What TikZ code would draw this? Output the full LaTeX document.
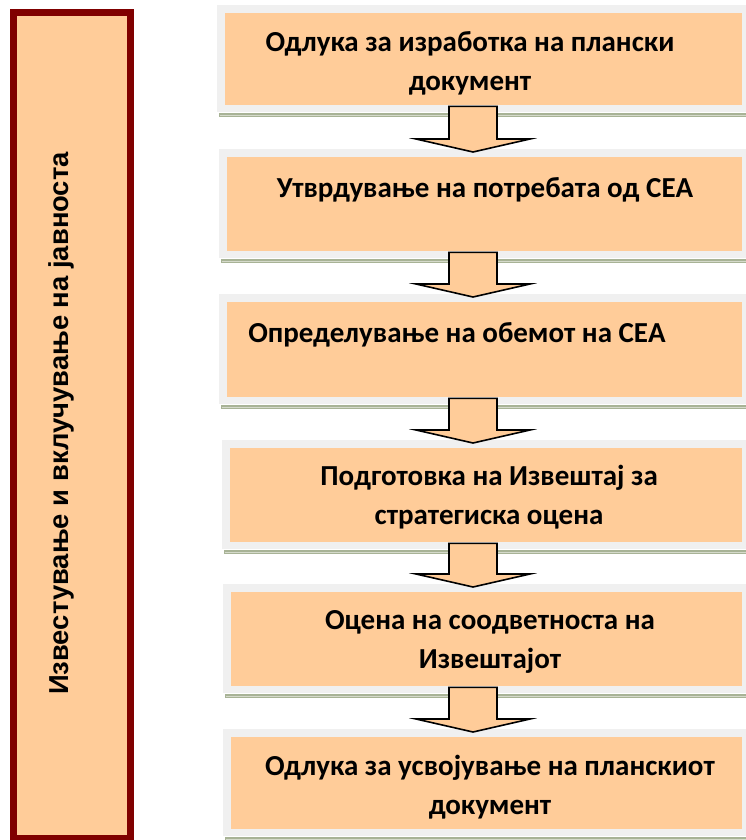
\documentclass[tikz,border=0pt]{standalone}
\usepackage{fontspec}
\setmainfont{Carlito}
\newfontfamily\sidefont{Liberation Sans}
\usetikzlibrary{calc}
\definecolor{peach}{HTML}{FFCC99}
\definecolor{darkmaroon}{HTML}{800000}
\definecolor{framegray}{HTML}{F0F0F0}
\definecolor{shadowgreen}{HTML}{A8B396}
\definecolor{shadowlight}{HTML}{D5DACB}
\tikzset{
  stepbox/.style={fill=peach, inner sep=0pt, anchor=north west},
  steptext/.style={font=\bfseries\fontsize{29}{38.5}\selectfont, align=center, inner sep=0pt},
  downarrow/.style={fill=peach, draw=black, line width=1.6pt, line join=miter},
}
\begin{document}
\begin{tikzpicture}[x=1pt,y=-1pt]
\useasboundingbox (0,0) rectangle (746,840);
\clip (0,0) rectangle (746,840);
% side box
\node[draw=darkmaroon, line width=7pt, fill=peach, inner sep=0pt,
      minimum width=117, minimum height=826] (side) at (72,425.5) {};
\node[rotate=90, font=\sidefont\bfseries\fontsize{27.4}{32}\selectfont] (sidetext) at (61,423.5)
  {Известување и вклучување на јавноста};
% step boxes
\foreach \n/\xl/\yt/\yb in {1/225/13/105, 2/227/157/251, 3/227/302/397,
                            4/230/448/542, 5/231/592/686, 6/231/737/829}{
  \fill[framegray] (\xl-8,\yt-8) rectangle (750,\yb+7);        % light frame
  \fill[shadowgreen] (\xl-6,\yb+8) rectangle (750,\yb+12);     % shadow line
  \draw[shadowlight, line width=0.8pt] (\xl-5,\yb+10) -- (750,\yb+10);
  \node[stepbox, minimum width={742-\xl}, minimum height={\yb-\yt}] (b\n) at (\xl,\yt) {};
}
\node[steptext] (t1) at (470,63.5) {Одлука за изработка на плански\\документ};
\node[steptext] (t2) at (485,190) {Утврдување на потребата од СЕА};
\node[steptext] (t3) at (457,335) {Определување на обемот на СЕА};
\node[steptext] (t4) at (489,497) {Подготовка на Извештај за\\стратегиска оцена};
\node[steptext] (t5) at (490,642) {Оцена на соодветноста на\\Извештајот};
\node[steptext] (t6) at (490,787) {Одлука за усвојување на планскиот\\документ};
% arrows between the steps
\foreach \i/\j in {1/2, 2/3, 3/4, 4/5, 5/6}{
  \coordinate (a\i) at (473,0 |- b\i.south);
  \coordinate (h\i) at (473,0 |- b\j.north);
  \draw[downarrow] ($(a\i)+(-24,1)$) -- ($(h\i)+(-24,-18)$) -- ($(h\i)+(-57,-18)$)
    -- ($(h\i)+(0,-5)$) -- ($(h\i)+(57,-18)$) -- ($(h\i)+(24,-18)$) -- ($(a\i)+(24,1)$) -- cycle;
}
\end{tikzpicture}
\end{document}
